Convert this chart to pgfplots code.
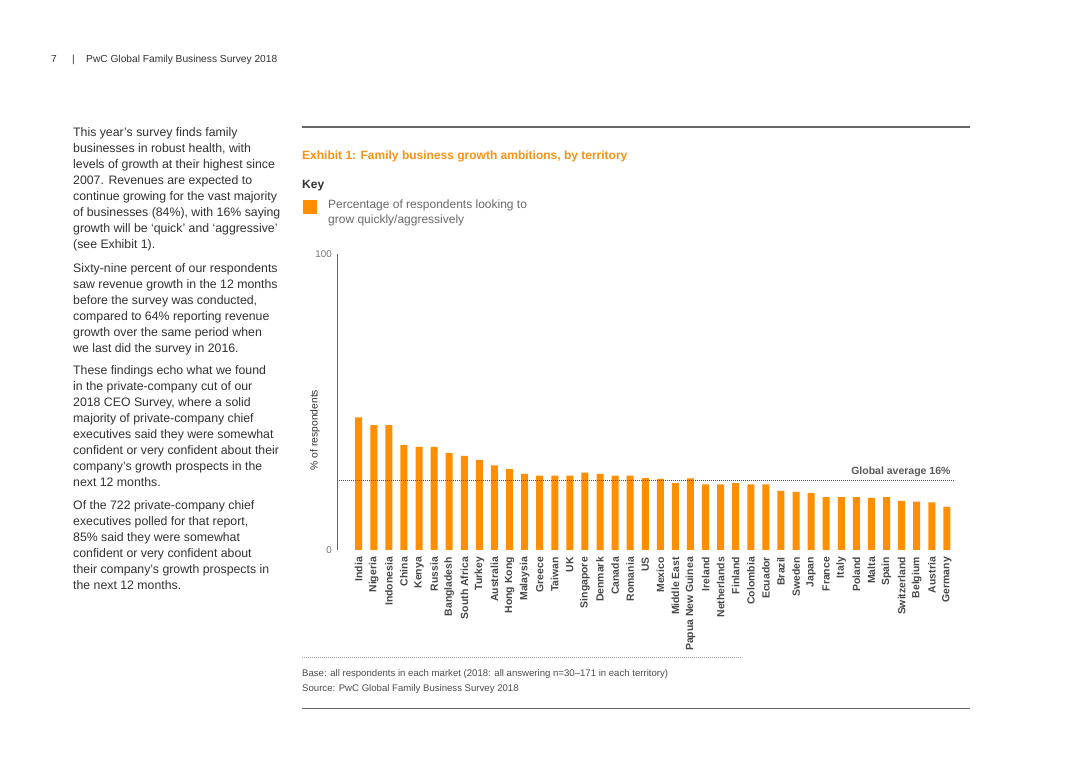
\documentclass[border=0pt]{standalone}
\usepackage{fontspec}
\setmainfont{Liberation Sans}
\usepackage{pgfplots}
\pgfplotsset{compat=1.18}
\definecolor{pwcorange}{RGB}{255,143,0}
\definecolor{titleorange}{RGB}{247,146,20}
\definecolor{bodygray}{RGB}{50,50,50}
\definecolor{lightgray}{RGB}{105,105,105}
\newcommand\body{\fontsize{12.3}{16}\selectfont}
\begin{document}
\begin{tikzpicture}[x=1pt,y=1pt]
\path[fill=white,use as bounding box] (0,0) rectangle (1080,763);

% page header
\begin{scope}[every node/.style={anchor=base west,inner sep=0pt,font=\fontsize{10.2}{12}\selectfont,text=bodygray}]
\node at (51,{763-62.7}) {7};
\node at (72,{763-62.7}) {|};
\node at (86,{763-62.7}) {PwC Global Family Business Survey 2018};
\end{scope}

% body text, left column
\begin{scope}[every node/.style={anchor=base west,inner sep=0pt,font=\body,text=bodygray}]
\foreach \t [count=\i from 0] in {{This year’s survey finds family},{businesses in robust health, with},{levels of growth at their highest since},{2007. Revenues are expected to},{continue growing for the vast majority},{of businesses (84\%), with 16\% saying},{growth will be ‘quick’ and ‘aggressive’},{(see Exhibit 1).}}
  \node at (73,{763-136.5-16*\i}) {\t};
\foreach \t [count=\i from 0] in {{Sixty-nine percent of our respondents},{saw revenue growth in the 12 months},{before the survey was conducted,},{compared to 64\% reporting revenue},{growth over the same period when},{we last did the survey in 2016.}}
  \node at (73,{763-272.5-16*\i}) {\t};
\foreach \t [count=\i from 0] in {{These findings echo what we found},{in the private-company cut of our},{2018 CEO Survey, where a solid},{majority of private-company chief},{executives said they were somewhat},{confident or very confident about their},{company’s growth prospects in the},{next 12 months.}}
  \node at (73,{763-374.5-16*\i}) {\t};
\foreach \t [count=\i from 0] in {{Of the 722 private-company chief},{executives polled for that report,},{85\% said they were somewhat},{confident or very confident about},{their company’s growth prospects in},{the next 12 months.}}
  \node at (73,{763-510-16*\i}) {\t};
\end{scope}

% exhibit frame
\draw[black!60,line width=1.3pt] (302,{763-127}) -- (970,{763-127});
\draw[black!60,line width=1.3pt] (302,{763-708.5}) -- (970,{763-708.5});
\node[anchor=base west,inner sep=0pt,font=\fontsize{12}{14}\selectfont\bfseries,text=titleorange]
  at (302,{763-159.3}) {Exhibit 1: Family business growth ambitions, by territory};
\node[anchor=base west,inner sep=0pt,font=\fontsize{12}{14}\selectfont\bfseries,text=bodygray]
  at (302,{763-188.3}) {Key};
\fill[pwcorange] (303,{763-200}) rectangle (317,{763-214});
\node[anchor=base west,inner sep=0pt,font=\fontsize{12}{14}\selectfont,text=lightgray]
  at (328,{763-208.3}) {Percentage of respondents looking to};
\node[anchor=base west,inner sep=0pt,font=\fontsize{12}{14}\selectfont,text=lightgray]
  at (328,{763-223.3}) {grow quickly/aggressively};

\coordinate (AO) at (337,213);
\begin{axis}[
  at={(AO)}, anchor=south west,
  scale only axis, width=618pt, height=296pt,
  xmin=-1.44, xmax=39.54, ymin=0, ymax=100,
  axis y line*=left, axis x line*=bottom,
  axis line style={-},
  x axis line style={draw=none},
  y axis line style={draw=black!60,line width=1pt},
  major tick length=0pt,
  ytick={0,100},
  yticklabel style={font=\fontsize{9.8}{11}\selectfont,text=black!55,inner sep=0pt},
  yticklabel shift=5pt,
  /pgf/number format/assume math mode=true,
  xtick={0,...,39},
  xticklabels={India,Nigeria,Indonesia,China,Kenya,Russia,Bangladesh,South Africa,Turkey,Australia,Hong Kong,Malaysia,Greece,Taiwan,UK,Singapore,Denmark,Canada,Romania,US,Mexico,Middle East,Papua New Guinea,Ireland,Netherlands,Finland,Colombia,Ecuador,Brazil,Sweden,Japan,France,Italy,Poland,Malta,Spain,Switzerland,Belgium,Austria,Germany},
  xticklabel style={rotate=90,anchor=east,inner sep=0pt,font=\fontsize{10.4}{12}\selectfont\bfseries,text=black!72},
  xticklabel shift=7pt,
  clip=false,
]
\addplot[ybar,bar width=7pt,fill=pwcorange,draw=none] coordinates {
 (0,44.8) (1,42.2) (2,42.2) (3,35.4) (4,34.8) (5,34.8) (6,32.7) (7,31.8)
 (8,30.4) (9,28.6) (10,27.3) (11,25.7) (12,25.1) (13,25.1) (14,25.1) (15,26.1)
 (16,25.7) (17,25.1) (18,25.1) (19,24.3) (20,24.0) (21,22.6) (22,24.2) (23,22.2)
 (24,22.2) (25,22.6) (26,22.2) (27,22.2) (28,20.0) (29,19.6) (30,19.2) (31,17.9)
 (32,17.9) (33,17.9) (34,17.6) (35,17.9) (36,16.6) (37,16.3) (38,16.1) (39,14.6)};
\addplot[draw=black!70,line width=0.7pt,dash pattern=on 0.8pt off 1.2pt] coordinates {(-1.44,23.6) (39.54,23.6)};
\end{axis}

\node[anchor=center,rotate=90,inner sep=0pt,font=\fontsize{10.3}{12}\selectfont,text=bodygray]
  at (315,{763-430}) {\% of respondents};
\node[anchor=base east,inner sep=0pt,font=\fontsize{10.5}{12}\selectfont\bfseries,text=black!65]
  at (950.7,{763-474.3}) {Global average 16\%};

% footnote
\draw[black!35,line width=0.6pt,dash pattern=on 0.8pt off 1.2pt] (302,{763-657}) -- (742,{763-657});
\node[anchor=base west,inner sep=0pt,font=\fontsize{9.6}{11}\selectfont,text=black!70]
  at (302,{763-676.7}) {Base: all respondents in each market (2018: all answering n=30–171 in each territory)};
\node[anchor=base west,inner sep=0pt,font=\fontsize{9.6}{11}\selectfont,text=black!70]
  at (302,{763-691.7}) {Source: PwC Global Family Business Survey 2018};
\end{tikzpicture}
\end{document}
